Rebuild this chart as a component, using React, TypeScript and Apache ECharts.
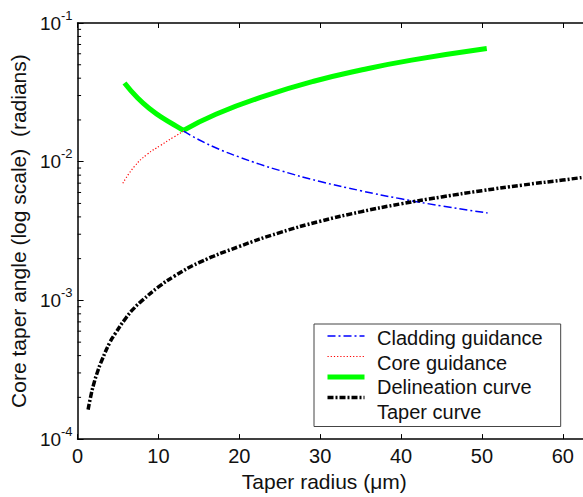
import React, { useEffect, useRef } from "react";
import * as echarts from "echarts";

const FONT = "'Liberation Sans', Arial, sans-serif";

const taperX = [1.3, 1.6, 2, 2.5, 3, 4, 4.6, 6, 7, 8, 10, 12, 15, 20, 25, 30, 35, 40, 45, 50, 55, 60, 62.5];
const taperY = [1.63e-4, 2.0e-4, 2.5e-4, 3.1e-4, 3.7e-4, 5.0e-4, 5.7e-4, 7.5e-4, 8.8e-4, 1.0e-3, 1.25e-3, 1.5e-3, 1.87e-3, 2.45e-3, 3.08e-3, 3.72e-3, 4.35e-3, 4.97e-3, 5.57e-3, 6.18e-3, 6.78e-3, 7.38e-3, 7.7e-3];

const cladX = [13.1, 15, 17.5, 20, 22.5, 25, 30, 35, 40, 45, 50.7];
const cladY = [1.66e-2, 1.44e-2, 1.23e-2, 1.08e-2, 9.6e-3, 8.65e-3, 7.2e-3, 6.18e-3, 5.4e-3, 4.8e-3, 4.27e-3];

const coreX = [5.6, 7.0, 8.6, 10.25, 11.85, 13.1];
const coreY = [7.0e-3, 9.2e-3, 1.13e-2, 1.31e-2, 1.5e-2, 1.66e-2];

// Delineation curve: falling branch (left of the kink) and rising branch (right of it)
const delinLeftX = [5.8, 7.4, 9.0, 10.6, 12.25, 13.1];
const delinLeftY = [3.69e-2, 2.89e-2, 2.39e-2, 2.05e-2, 1.8e-2, 1.68e-2];
const delinRightX = [13.1, 17.1, 23.1, 29.2, 35.2, 41.3, 50.6];
const delinRightY = [1.68e-2, 2.2e-2, 2.97e-2, 3.8e-2, 4.6e-2, 5.4e-2, 6.55e-2];

const minorTickValues: number[] = [];
for (const dec of [1e-4, 1e-3, 1e-2]) {
  for (const m of [2, 3, 4, 5, 6, 7, 8, 9]) minorTickValues.push(m * dec);
}

const legendNames = ["Cladding guidance", "Core guidance", "Delineation curve", "Taper curve"];

const zip = (xs: number[], ys: number[]) => xs.map((x, i) => [x, ys[i]]);

export default function App() {
  const ref = useRef<HTMLDivElement>(null);
  useEffect(() => {
    if (!ref.current) return;
    const chart = echarts.init(ref.current, undefined, { renderer: "svg" });
    const delinStyle = {
      type: "line",
      name: "Delineation curve",
      showSymbol: false,
      symbol: "none",
      smooth: 0.5,
      lineStyle: { color: "#00ff00", width: 5 },
      itemStyle: { color: "#00ff00" },
      z: 2,
    };
    const legendBase = {
      data: legendNames,
      orient: "vertical",
      left: 314,
      top: 324,
      padding: [4, 18, 5, 11],
      itemWidth: 37,
      itemHeight: 20,
      itemGap: 4.5,
      selectedMode: false,
      borderRadius: 0,
      itemStyle: { color: "transparent", borderColor: "transparent", borderWidth: 0, opacity: 0 },
      textStyle: { fontSize: 20, color: "#111", fontFamily: FONT, lineHeight: 20, padding: [0, 0, 0, 9] },
    };
    chart.setOption({
      animation: false,
      backgroundColor: "#fff",
      textStyle: { fontFamily: FONT },
      grid: { left: 72, top: 23, bottom: 50, right: -6, containLabel: false },
      legend: [
        {
          ...legendBase,
          z: 4,
          backgroundColor: "#fff",
          borderColor: "#444",
          borderWidth: 1,
          lineStyle: { opacity: 0 },
        },
        {
          ...legendBase,
          z: 5,
          backgroundColor: "transparent",
          borderWidth: 0,
          formatter: () => "",
          lineStyle: { width: "inherit" },
        },
      ],
      xAxis: [
        {
          type: "value",
          min: 0,
          max: 62.5,
          interval: 10,
          position: "bottom",
          name: "Taper radius (μm)",
          nameLocation: "middle",
          nameGap: 28,
          nameTextStyle: { fontSize: 21, color: "#111", fontFamily: FONT, padding: [0, 12, 0, 0] },
          axisLine: { show: true, lineStyle: { color: "#000", width: 1.5 } },
          axisTick: { show: true, inside: true, length: 5, lineStyle: { color: "#000" } },
          axisLabel: { fontSize: 20, color: "#111", margin: 7, fontFamily: FONT, showMaxLabel: false },
          splitLine: { show: false },
        },
        {
          type: "value",
          min: 0,
          max: 62.5,
          interval: 10,
          position: "top",
          axisLine: { show: true, lineStyle: { color: "#000", width: 1.5 } },
          axisTick: { show: true, inside: true, length: 5, lineStyle: { color: "#000" } },
          axisLabel: { show: false },
          splitLine: { show: false },
        },
      ],
      yAxis: {
        type: "log",
        logBase: 10,
        min: 1e-4,
        max: 1e-1,
        name: "Core taper angle (log scale)  (radians)",
        nameLocation: "middle",
        nameGap: 38,
        nameTextStyle: { fontSize: 21, color: "#111", fontFamily: FONT },
        axisLine: { show: true, lineStyle: { color: "#000", width: 1.5 } },
        axisTick: { show: true, inside: true, length: 6, lineStyle: { color: "#000" } },
        axisLabel: {
          margin: 5,
          formatter: (v: number) => `{b|10}{s|${Math.round(Math.log10(v))}}`,
          rich: {
            b: { fontSize: 19, color: "#111", fontFamily: FONT },
            s: { fontSize: 13, color: "#111", fontFamily: FONT, padding: [0, 0, 16, 0] },
          },
        },
        splitLine: { show: false },
      },
      series: [
        {
          name: "Cladding guidance",
          type: "line",
          data: zip(cladX, cladY),
          showSymbol: false,
          symbol: "none",
          smooth: true,
          lineStyle: { color: "#0000ff", width: 1.5, type: [8, 3, 2, 3] },
          itemStyle: { color: "#0000ff" },
          z: 3,
        },
        {
          name: "Core guidance",
          type: "line",
          data: zip(coreX, coreY),
          showSymbol: false,
          symbol: "none",
          smooth: true,
          lineStyle: { color: "#ff0000", width: 1.2, type: [1.2, 2] },
          itemStyle: { color: "#ff0000" },
          z: 3,
        },
        { ...delinStyle, data: zip(delinLeftX, delinLeftY) },
        { ...delinStyle, data: zip(delinRightX, delinRightY) },
        {
          name: "Taper curve",
          type: "line",
          data: zip(taperX, taperY),
          showSymbol: false,
          symbol: "none",
          smooth: true,
          lineStyle: { color: "#000", width: 3.5, type: [6, 2, 2, 2] },
          itemStyle: { color: "#000" },
          z: 4,
        },
        {
          name: "minorTicks",
          type: "custom",
          silent: true,
          clip: false,
          data: minorTickValues.map((v) => [0, v]),
          renderItem: (_p: any, api: any) => {
            const pt = api.coord([0, api.value(1)]);
            return {
              type: "line",
              shape: { x1: pt[0], y1: pt[1], x2: pt[0] + 3.5, y2: pt[1] },
              style: { stroke: "#000", lineWidth: 1 },
            };
          },
          z: 5,
        },
      ],
    });
    return () => chart.dispose();
  }, []);
  return <div ref={ref} style={{ position: "fixed", left: 0, top: 0, width: 583, height: 497 }} />;
}
